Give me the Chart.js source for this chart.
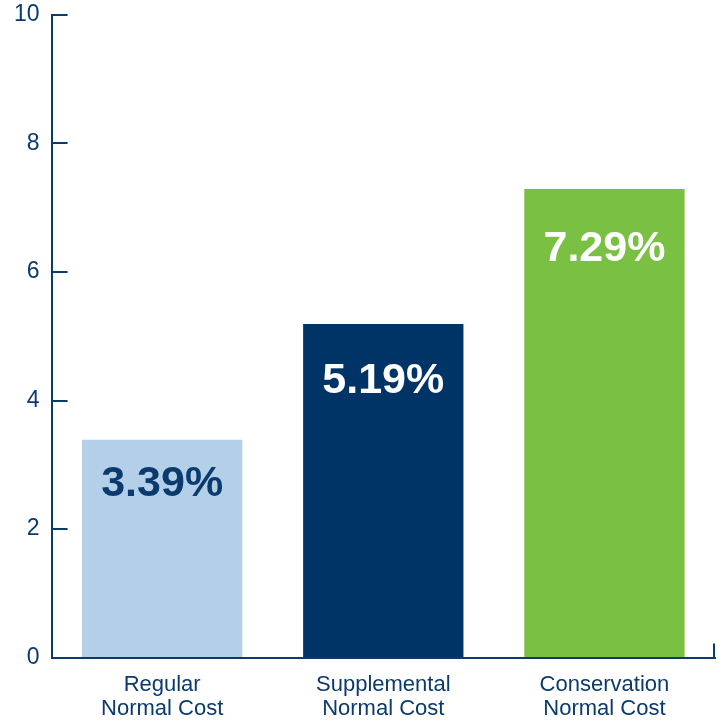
<!DOCTYPE html>
<html>
<head>
<meta charset="utf-8">
<script src="https://cdn.jsdelivr.net/npm/chart.js@4/dist/chart.umd.min.js"></script>
<style>
  html, body { margin: 0; padding: 0; background: #fff; }
  #wrap { width: 722px; height: 723px; }
</style>
</head>
<body>
<div id="wrap"><canvas id="c"></canvas></div>
<script>
const categories = [["Regular", "Normal Cost"], ["Supplemental", "Normal Cost"], ["Conservation", "Normal Cost"]];
const values = [3.39, 5.19, 7.29];
const valueLabels = ["3.39%", "5.19%", "7.29%"];
const yTicks = [0, 2, 4, 6, 8, 10];

const navy = "#0b3a6e";
const barColors = ["#b4cfe8", "#003366", "#7ac143"];
const labelColors = ["#0b3a6e", "#ffffff", "#ffffff"];
const labelOffsets = [44, 57, 60];

// ticks that point into the plot + little end tick on the x axis
const innerTicks = {
  id: "innerTicks",
  afterDraw(chart) {
    const { ctx, chartArea, scales } = chart;
    ctx.save();
    ctx.strokeStyle = navy;
    ctx.lineWidth = 2;
    ctx.beginPath();
    scales.y.ticks.forEach(t => {
      const y = Math.round(scales.y.getPixelForValue(t.value));
      ctx.moveTo(chartArea.left, y);
      ctx.lineTo(chartArea.left + 16, y);
    });
    ctx.moveTo(chartArea.right - 1, chartArea.bottom);
    ctx.lineTo(chartArea.right - 1, chartArea.bottom - 14);
    ctx.stroke();
    ctx.restore();
  }
};

const barLabels = {
  id: "barLabels",
  afterDatasetsDraw(chart) {
    const { ctx } = chart;
    const meta = chart.getDatasetMeta(0);
    ctx.save();
    ctx.font = "bold 43px 'Liberation Sans', Arial, sans-serif";
    ctx.textAlign = "center";
    ctx.textBaseline = "middle";
    meta.data.forEach((bar, i) => {
      ctx.fillStyle = labelColors[i];
      ctx.fillText(valueLabels[i], bar.x, bar.y + labelOffsets[i]);
    });
    ctx.restore();
  }
};

new Chart(document.getElementById("c"), {
  type: "bar",
  data: {
    labels: categories,
    datasets: [
      {
        data: values,
        backgroundColor: barColors,
        borderWidth: 0,
        barPercentage: 0.725,
        categoryPercentage: 1,
      },
    ],
  },
  options: {
    responsive: true,
    maintainAspectRatio: false,
    animation: false,
    layout: { padding: { top: 0, right: 7, left: 2, bottom: -5 } },
    plugins: {
      legend: { display: false },
      tooltip: { enabled: false },
    },
    scales: {
      x: {
        grid: { display: false },
        border: { display: true, color: navy, width: 2, z: 1 },
        ticks: {
          color: navy,
          padding: 7,
          font: { family: "'Liberation Sans', Arial, sans-serif", size: 22, lineHeight: 1.1 },
        },
      },
      y: {
        min: 0,
        max: 10,
        afterBuildTicks(scale) {
          scale.ticks = yTicks.map(v => ({ value: v }));
        },
        grid: { display: true, drawOnChartArea: false, drawTicks: false },
        border: { display: true, color: navy, width: 2, z: 1 },
        ticks: {
          color: navy,
          padding: 12,
          font: { family: "'Liberation Sans', Arial, sans-serif", size: 23, lineHeight: 0.25 },
        },
      },
    },
  },
  plugins: [innerTicks, barLabels],
});
</script>
</body>
</html>
